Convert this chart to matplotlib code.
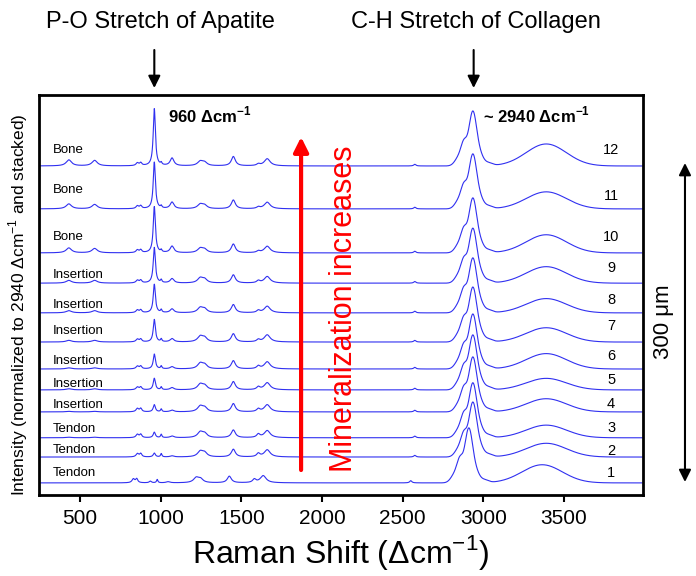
import numpy as np
import matplotlib.pyplot as plt

plt.rcParams['font.family'] = ['Liberation Sans', 'DejaVu Sans']
plt.rcParams['mathtext.fontset'] = 'custom'
plt.rcParams['mathtext.rm'] = 'Liberation Sans'
plt.rcParams['mathtext.bf'] = 'Liberation Sans:bold'

# spectra 1 (tendon) .. 12 (bone), peak heights,
# normalised so the C-H band at ~2940 is 1
trace_no = list(range(1, 13))
sample = ['Tendon', 'Tendon', 'Tendon', 'Insertion', 'Insertion', 'Insertion',
          'Insertion', 'Insertion', 'Insertion', 'Bone', 'Bone', 'Bone']
offsets = [0.22, 0.69, 1.04, 1.51, 1.91, 2.29, 2.78, 3.31, 3.85, 4.40, 5.20, 5.98]
shift = [-25, 0, 0, 0, 0, 0, 0, 0, 0, 0, 0, 0]

# mineral bands
h960 = [0.03, 0.07, 0.10, 0.13, 0.21, 0.27, 0.41, 0.52, 0.65, 0.84, 0.85, 1.04]
h430 = [0.0, 0.0, 0.01, 0.01, 0.02, 0.02, 0.03, 0.04, 0.05, 0.09, 0.09, 0.11]
h590 = [0.0, 0.0, 0.01, 0.01, 0.02, 0.02, 0.03, 0.04, 0.05, 0.08, 0.08, 0.10]
h1070 = [0.02, 0.02, 0.03, 0.03, 0.04, 0.04, 0.06, 0.07, 0.08, 0.12, 0.12, 0.14]
# organic bands
h855 = [0.07, 0.06, 0.06, 0.06, 0.05, 0.05, 0.05, 0.05, 0.05, 0.05, 0.05, 0.05]
h1003 = [0.06, 0.06, 0.06, 0.05, 0.05, 0.05, 0.05, 0.05, 0.05, 0.04, 0.04, 0.04]
h1245 = [0.09, 0.10, 0.10, 0.10, 0.10, 0.10, 0.10, 0.09, 0.09, 0.08, 0.08, 0.08]
h1450 = [0.12, 0.14, 0.14, 0.15, 0.15, 0.15, 0.15, 0.15, 0.15, 0.16, 0.16, 0.17]
h1605 = [0.06, 0.06, 0.06, 0.05, 0.05, 0.05, 0.04, 0.04, 0.04, 0.03, 0.03, 0.03]
h1660 = [0.13, 0.13, 0.13, 0.13, 0.13, 0.13, 0.13, 0.12, 0.12, 0.12, 0.12, 0.13]
h2575 = [0.04, 0.03, 0.03, 0.03, 0.03, 0.03, 0.03, 0.03, 0.03, 0.03, 0.03, 0.03]
h3400 = [0.33, 0.25, 0.23, 0.24, 0.21, 0.28, 0.26, 0.26, 0.30, 0.33, 0.31, 0.40]

# C-H stretch band components (position, height, sigma)
ch_pos = [2850, 2880, 2935, 2985, 3030]
ch_amp = [0.15, 0.30, 0.92, 0.12, 0.05]
ch_sig = [25, 18, 25, 20, 25]

x = np.linspace(245, 3985, 3000)


def lor(c, w):
    return 1.0 / (1.0 + ((x - c) / w) ** 2)


def gau(c, s):
    return np.exp(-0.5 * ((x - c) / s) ** 2)


def spectrum(i):
    d = shift[i]
    ch = sum(a * gau(p + d, s) for p, a, s in zip(ch_pos, ch_amp, ch_sig))
    ch = ch / ch.max()
    y = ch
    y = y + h960[i] * lor(960 + d, 8) + h430[i] * lor(430 + d, 20)
    y = y + h590[i] * lor(590 + d, 20) + h1070[i] * lor(1070 + d, 14)
    y = y + h855[i] * (lor(855 + d, 10) + lor(876 + d, 8))
    y = y + h1003[i] * lor(1003 + d, 5)
    y = y + h1245[i] * (lor(1245 + d, 20) + 0.7 * lor(1272 + d, 18))
    y = y + h1450[i] * lor(1450 + d, 15)
    y = y + h1605[i] * lor(1605 + d, 12) + h1660[i] * lor(1660 + d, 22)
    y = y + h2575[i] * lor(2575 + d, 8)
    y = y + h3400[i] * gau(3390 + d, 125)
    return y


fig = plt.figure(figsize=(6.96, 5.76), dpi=100)
ax = fig.add_axes([39 / 696, 81 / 576, 604 / 696, 400 / 576])

lift_left = [0.18, 0.13, 0.16, 0.13, 0.11, 0.15, 0.20, 0.15, 0.15, 0.29, 0.35, 0.29]
lift_right = [0.18, 0.11, 0.18, 0.15, 0.18, 0.24, 0.29, 0.24, 0.27, 0.29, 0.24, 0.29]

for i in range(12):
    ax.plot(x, spectrum(i) + offsets[i], color='#3030f0', lw=0.8)
    ax.text(332, offsets[i] + lift_left[i], sample[i], fontsize=9.5,
            ha='left', va='center')
    ax.text(3792, offsets[i] + lift_right[i], str(trace_no[i]), fontsize=10.5,
            ha='center', va='center')

ax.set_xlim(245, 3990)
ax.set_ylim(0, 7.27)
ax.set_yticks([])
ax.set_xticks([500, 1000, 1500, 2000, 2500, 3000, 3500])
ax.tick_params(axis='x', direction='out', length=5, width=1.5, labelsize=15, pad=5)
for s in ax.spines.values():
    s.set_linewidth(2)
ax.set_xlabel('Raman Shift (Δcm$^{-1}$)', fontsize=23, labelpad=4)

fig.text(18 / 696, 1 - 305 / 576,
         'Intensity (normalized to 2940 Δcm$^{-1}$ and stacked)',
         rotation=90, fontsize=12.5, ha='center', va='center')

# band annotations
ax.text(1044, 0.95, '960 Δcm$^{\\mathbf{-1}}$', transform=ax.get_xaxis_transform(),
        fontsize=12, fontweight='bold', ha='left', va='center')
ax.text(2995, 0.95, '~ 2940 Δcm$^{\\mathbf{-1}}$', transform=ax.get_xaxis_transform(),
        fontsize=12, fontweight='bold', ha='left', va='center')

fig.text(160 / 696, 1 - 22 / 576, 'P-O Stretch of Apatite', fontsize=17,
         ha='center', va='center')
fig.text(476 / 696, 1 - 22 / 576, 'C-H Stretch of Collagen', fontsize=17,
         ha='center', va='center')
for xv in [960, 2940]:
    ax.annotate('', xy=(xv, 1.0175), xytext=(xv, 1.1125),
                xycoords=('data', 'axes fraction'), annotation_clip=False,
                arrowprops=dict(arrowstyle='-|>', color='k', lw=1.5,
                                mutation_scale=18, shrinkA=0, shrinkB=0))

# mineralization arrow
ax.annotate('', xy=(1870, 0.895), xytext=(1870, 0.0625),
            xycoords=('data', 'axes fraction'),
            arrowprops=dict(arrowstyle='-|>', color='red', lw=3,
                            mutation_scale=22, shrinkA=0, shrinkB=0))
ax.text(2139, 0.465, 'Mineralization increases', transform=ax.get_xaxis_transform(),
        rotation=90, color='red', fontsize=22, ha='center', va='center')

# 300 um scale arrow
ax.annotate('', xy=(1.0695, 0.83), xytext=(1.0695, 0.0325), xycoords='axes fraction',
            annotation_clip=False,
            arrowprops=dict(arrowstyle='<|-|>', color='k', lw=1.5,
                            mutation_scale=18, shrinkA=0, shrinkB=0))
fig.text(664 / 696, 1 - 322 / 576, '300 μm', rotation=90, fontsize=16,
         ha='center', va='center')

fig.savefig('out.png', dpi=100)
